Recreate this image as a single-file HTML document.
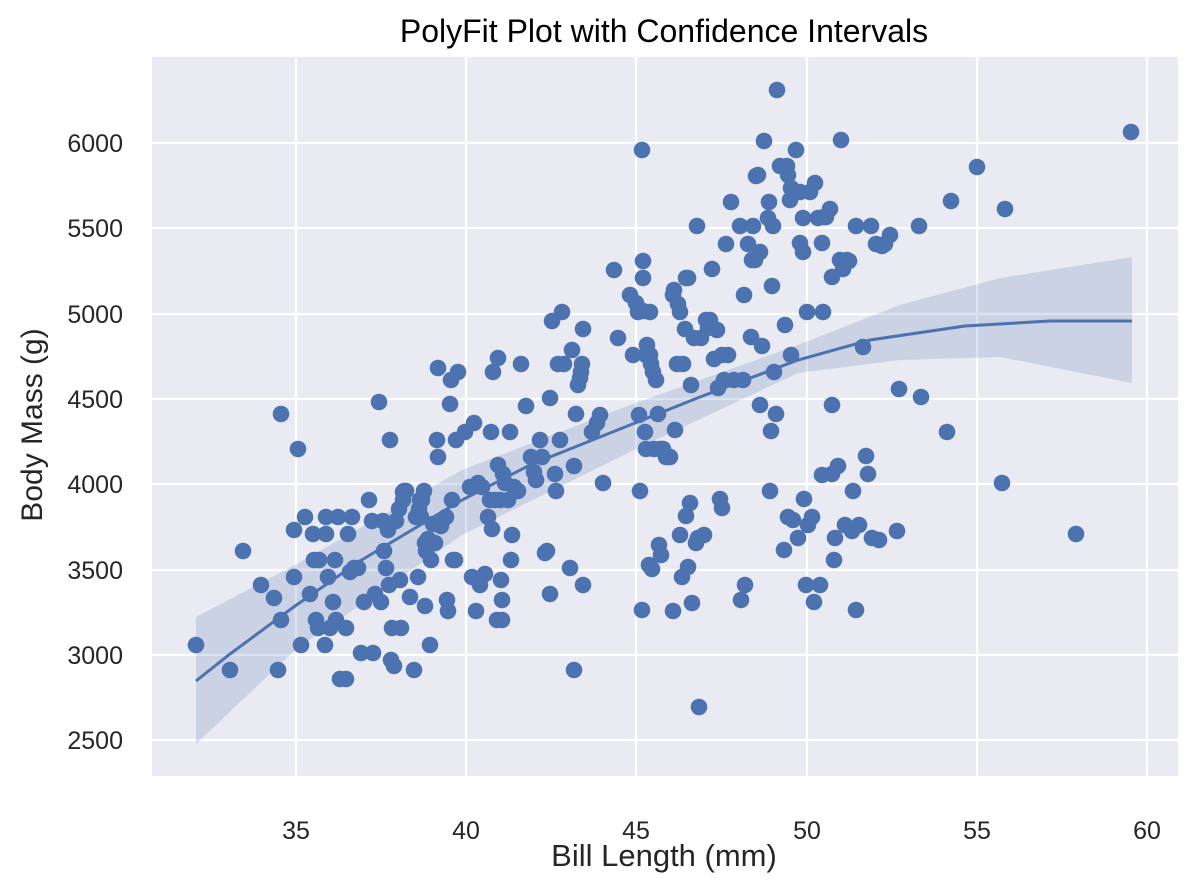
<!DOCTYPE html>
<html><head><meta charset="utf-8"><style>
html,body{margin:0;padding:0;background:#fff;}
svg text{font-family:"Liberation Sans","DejaVu Sans",sans-serif;fill:#262626;}
</style></head><body>
<svg width="1198" height="890" viewBox="0 0 1198 890" xmlns="http://www.w3.org/2000/svg">
<rect x="152" y="57" width="1026" height="719" fill="#eaeaf2"/>
<g stroke="#fff" stroke-width="2.2">
<line x1="296" y1="57" x2="296" y2="776"/><line x1="466" y1="57" x2="466" y2="776"/>
<line x1="636" y1="57" x2="636" y2="776"/><line x1="807" y1="57" x2="807" y2="776"/>
<line x1="977" y1="57" x2="977" y2="776"/><line x1="1147" y1="57" x2="1147" y2="776"/>
<line x1="152" y1="740" x2="1178" y2="740"/><line x1="152" y1="655" x2="1178" y2="655"/>
<line x1="152" y1="570" x2="1178" y2="570"/><line x1="152" y1="484" x2="1178" y2="484"/>
<line x1="152" y1="399" x2="1178" y2="399"/><line x1="152" y1="314" x2="1178" y2="314"/>
<line x1="152" y1="228" x2="1178" y2="228"/><line x1="152" y1="143" x2="1178" y2="143"/>
</g>
<polygon fill="#4c72b0" fill-opacity="0.2" points="196,617 295,565 462,470 630,405 798,345 900,305 1000,278 1132,257 1132,383 1000,357 900,360 798,373 630,452 462,535 295,650 196,744"/>
<g fill="#4c72b0" id="pts">
</g>
<polyline fill="none" stroke="#4c72b0" stroke-width="3" points="196,681 230,654 295,606 360,561 462,500 530,465 630,425 700,397 798,360 870,340 965,326 1050,321 1132,321"/>
<g font-size="25" text-anchor="end">
<text x="123" y="749">2500</text><text x="123" y="664">3000</text><text x="123" y="579">3500</text>
<text x="123" y="493">4000</text><text x="123" y="408">4500</text><text x="123" y="323">5000</text>
<text x="123" y="237">5500</text><text x="123" y="152">6000</text>
</g>
<g font-size="25" text-anchor="middle">
<text x="296" y="839">35</text><text x="466" y="839">40</text><text x="636" y="839">45</text>
<text x="807" y="839">50</text><text x="977" y="839">55</text><text x="1147" y="839">60</text>
</g>
<text x="664" y="866" font-size="31" text-anchor="middle">Bill Length (mm)</text>
<text x="42" y="425" font-size="30" text-anchor="middle" transform="rotate(-90 42 425)">Body Mass (g)</text>
<text x="664" y="42" font-size="32" text-anchor="middle" style="fill:#000">PolyFit Plot with Confidence Intervals</text>
</svg>
<script>
var p=[196,645,230,670,243,551,261,585,274,598,278,670,281,414,281,620,294,530,294,577,298,449,301,645,305,517,310,594,313,534,314,560,316,620,318,628,319,560,325,645,326,534,326,517,328,577,330,628,333,602,335,560,336,620,338,517,340,679,346,679,346,628,348,534,350,572,352,517,354,568,358,568,361,653,364,602,369,500,372,521,373,653,375,594,379,402,381,602,383,521,384,551,386,568,388,530,389,585,390,440,391,660,392,628,394,666,396,521,399,509,400,580,401,628,403,492,403,500,404,491,406,491,410,597,414,670,416,517,418,577,419,509,420,500,421,517,422,500,424,491,425,606,425,543,426,551,428,539,430,645,431,560,433,524,435,543,437,440,438,457,438,368,441,526,446,517,447,600,448,611,450,404,451,380,452,500,453,560,455,560,456,440,458,372,465,432,470,487,472,577,474,423,476,611,478,483,480,585,482,487,485,574,488,517,490,500,491,432,492,529,493,372,495,500,497,620,498,358,498,465,500,500,501,580,502,600,502,620,503,474,505,483,508,500,510,432,511,560,512,535,514,487,516,491,518,491,521,364,526,406,531,457,534,472,536,480,540,440,542,457,545,553,547,551,550,398,550,594,552,321,555,474,556,491,558,364,560,440,562,312,564,364,570,568,572,350,574,466,574,670,576,414,578,385,580,378,581,372,582,364,583,585,583,329,592,432,597,423,600,415,603,483,614,270,618,338,630,295,633,355,636,303,638,312,639,415,640,491,642,150,642,610,643,261,643,278,643,311,645,432,646,355,646,449,647,345,649,565,650,355,650,312,651,364,652,569,653,372,654,449,656,380,658,414,659,545,660,449,661,555,662,449,663,449,666,457,669,457,670,457,673,295,673,611,674,290,675,430,677,364,678,304,680,535,680,312,682,577,683,364,685,329,686,516,686,278,688,278,688,567,690,503,691,385,692,603,694,338,696,543,697,226,698,538,699,707,701,338,704,535,706,320,708,328,710,320,712,269,714,359,717,330,718,388,720,499,722,508,722,355,724,380,726,244,728,355,731,202,734,380,740,226,741,600,743,380,744,295,745,585,748,244,751,337,752,260,753,226,755,260,756,176,758,175,760,405,760,252,762,346,764,141,768,218,769,202,770,491,771,431,772,286,773,226,774,372,776,414,777,90,780,166,784,550,785,325,787,166,788,517,788,175,790,200,791,188,791,355,793,520,794,192,796,150,798,538,800,243,800,192,803,218,803,252,804,499,806,585,807,312,808,525,810,192,812,517,814,602,815,183,818,218,820,585,822,475,822,243,823,312,824,217,826,217,830,209,832,405,832,277,832,474,834,560,835,538,838,466,840,260,841,140,843,269,845,525,847,260,849,261,852,531,853,491,856,226,856,610,859,525,863,347,866,456,868,474,871,226,872,538,876,244,879,540,882,246,885,244,890,235,897,531,899,389,919,226,921,397,947,432,951,201,977,167,1002,483,1005,209,1076,534,1131,132];
var g=document.getElementById('pts'),s='';
for(var i=0;i<p.length;i+=2)s+='<circle cx="'+p[i]+'" cy="'+p[i+1]+'" r="8.3"/>';
g.innerHTML=s;
</script>
</body></html>
